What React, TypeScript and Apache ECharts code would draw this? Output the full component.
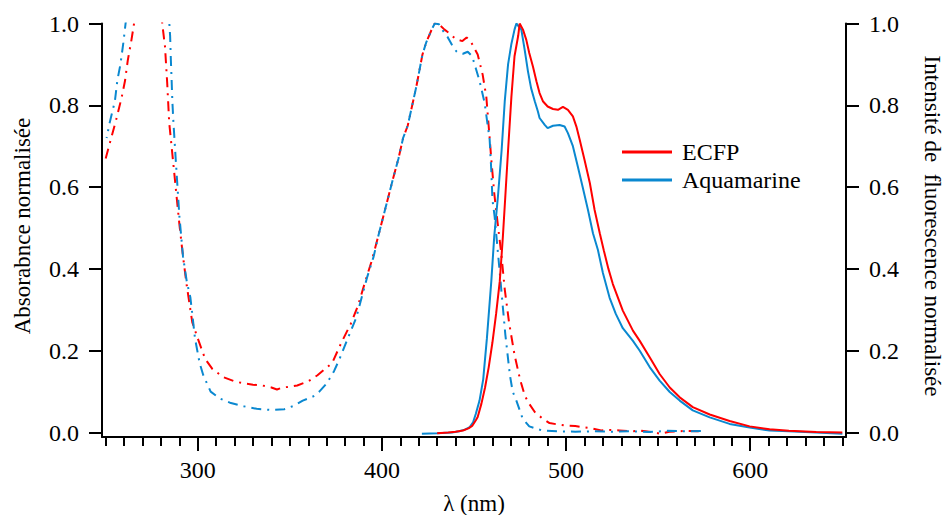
import React, { useEffect, useRef } from "react";
import * as echarts from "echarts";

// ---- Data ----
const ecfpAbsWl = [250, 253, 256, 258.7, 260.5, 262, 264, 265.4, 268, 272, 276, 279, 280.7, 282.2, 283.4, 284.5, 286, 288, 290, 292, 294, 297, 300, 304, 308, 314, 320, 325, 330, 335, 340, 343, 346, 350, 354, 360, 365, 369, 373, 378, 383, 387, 391, 394.5, 398, 402, 406, 409, 411.5, 414, 418.7, 422, 424, 427, 428.7, 431, 434, 437, 440, 443.7, 446, 448.6, 452, 454.7, 456.7, 458.5, 459.4, 461, 462, 464.8, 466.7, 469, 472, 475, 477.6, 480, 483, 487, 491, 495, 500, 505, 509, 514, 519, 524, 529, 535, 541, 547, 551, 556, 561, 566, 571, 575];
const ecfpAbsVal = [0.67, 0.72, 0.77, 0.82, 0.86, 0.91, 0.96, 1.0, 1.08, 1.18, 1.2, 1.1, 1.0, 0.944, 0.855, 0.757, 0.69, 0.6, 0.51, 0.43, 0.36, 0.27, 0.23, 0.18, 0.155, 0.135, 0.125, 0.12, 0.117, 0.115, 0.11, 0.105, 0.11, 0.112, 0.115, 0.125, 0.14, 0.155, 0.17, 0.22, 0.265, 0.31, 0.37, 0.42, 0.48, 0.55, 0.62, 0.67, 0.72, 0.75, 0.846, 0.924, 0.953, 0.985, 1.0, 0.998, 0.985, 0.975, 0.962, 0.957, 0.966, 0.953, 0.924, 0.875, 0.82, 0.72, 0.667, 0.585, 0.544, 0.438, 0.35, 0.27, 0.19, 0.13, 0.09, 0.07, 0.05, 0.035, 0.023, 0.02, 0.017, 0.016, 0.013, 0.01, 0.005, 0.006, 0.005, 0.003, 0.004, 0.001, -0.003, 0.002, 0.003, 0.004, 0.003, 0.004];

const aquaAbsWl = [250.5, 252.3, 255, 256.3, 258, 259.6, 260.8, 264, 270, 276, 281, 284, 285, 285.4, 285.8, 286.2, 286.7, 288, 290, 292, 294, 296, 298.5, 301, 303, 307, 312, 318, 325, 332, 340, 347, 352, 357, 362.6, 366, 370, 374, 377, 381, 386, 389, 392, 395.5, 398, 402, 406, 409, 411.5, 414, 418.7, 422, 424, 427, 428.7, 431, 433.5, 435.8, 438, 440.4, 442, 444, 446.6, 449, 451, 453, 455.8, 458.5, 459.4, 460, 461.2, 463.4, 465, 467, 469.5, 471, 473, 476.4, 480, 487, 495, 505, 515, 525, 535, 545, 555, 565, 575];
const aquaAbsVal = [0.72, 0.76, 0.81, 0.86, 0.9, 0.953, 1.0, 1.1, 1.2, 1.2, 1.12, 1.04, 0.969, 0.91, 0.863, 0.81, 0.765, 0.67, 0.53, 0.43, 0.37, 0.33, 0.23, 0.17, 0.14, 0.1, 0.083, 0.072, 0.064, 0.058, 0.055, 0.057, 0.065, 0.078, 0.088, 0.1, 0.12, 0.15, 0.18, 0.225, 0.28, 0.33, 0.38, 0.43, 0.48, 0.55, 0.62, 0.67, 0.72, 0.75, 0.846, 0.924, 0.953, 0.985, 1.0, 0.998, 0.98, 0.966, 0.948, 0.932, 0.927, 0.926, 0.931, 0.92, 0.89, 0.86, 0.805, 0.716, 0.64, 0.57, 0.528, 0.42, 0.34, 0.24, 0.14, 0.1, 0.078, 0.034, 0.015, 0.005, 0.003, 0.002, 0.003, 0.002, 0.003, 0.001, 0.004, 0.003, 0.004];

const ecfpEmWl = [430, 436, 440, 444, 447, 449, 451, 452, 454, 456, 458, 460, 462, 464, 465.7, 467, 468.5, 470.3, 472, 474, 474.8, 476.6, 478.4, 480, 482, 483.9, 485.6, 487.4, 490, 492.9, 495.6, 498.3, 501, 503.7, 505.6, 507.4, 510, 512.9, 515.5, 518.3, 520.5, 523, 525.4, 530.8, 536.3, 540, 545.4, 550.8, 556.3, 561.7, 568.8, 578, 588.8, 599.7, 610.5, 621, 635.8, 650];
const ecfpEmVal = [-0.002, 0, 0.002, 0.005, 0.01, 0.016, 0.03, 0.038, 0.07, 0.11, 0.16, 0.22, 0.29, 0.37, 0.48, 0.577, 0.69, 0.82, 0.92, 0.97, 1.0, 0.985, 0.96, 0.928, 0.895, 0.859, 0.83, 0.81, 0.797, 0.791, 0.789, 0.796, 0.789, 0.773, 0.748, 0.716, 0.667, 0.61, 0.544, 0.487, 0.445, 0.4, 0.363, 0.298, 0.249, 0.224, 0.184, 0.143, 0.11, 0.086, 0.062, 0.044, 0.028, 0.015, 0.008, 0.004, 0.001, 0];

const aquaEmWl = [421.7, 430, 438, 442, 445, 447.7, 449.5, 451, 453, 455, 457, 459.4, 461, 463, 465, 466.7, 468.5, 470.3, 472, 473, 475.7, 477.5, 479.3, 481, 483, 484.7, 485.6, 488.4, 490, 492.9, 496.5, 499.2, 501, 503.7, 506.4, 509, 511.9, 514.6, 517.3, 520, 523.6, 527, 530.8, 536.3, 540, 545.4, 550.8, 556.3, 561.7, 568.8, 578, 588.8, 599.7, 610.5, 621, 635.8, 650];
const aquaEmVal = [-0.003, -0.002, 0, 0.003, 0.007, 0.013, 0.025, 0.046, 0.078, 0.13, 0.23, 0.37, 0.48, 0.577, 0.69, 0.81, 0.9, 0.95, 0.985, 1.0, 0.985, 0.936, 0.883, 0.842, 0.81, 0.785, 0.769, 0.752, 0.744, 0.75, 0.752, 0.748, 0.732, 0.7, 0.65, 0.6, 0.544, 0.487, 0.446, 0.39, 0.33, 0.29, 0.255, 0.224, 0.2, 0.16, 0.127, 0.099, 0.078, 0.054, 0.037, 0.021, 0.012, 0.005, 0.003, 0, -0.003];

const xMajorTicks = [300, 400, 500, 600];
const xMinorTicks = [250, 260, 270, 280, 290, 300, 310, 320, 330, 340, 350, 360, 370, 380, 390, 400, 410, 420, 430, 440, 450, 460, 470, 480, 490, 500, 510, 520, 530, 540, 550, 560, 570, 580, 590, 600, 610, 620, 630, 640, 650];
const yTicks = [0, 0.2, 0.4, 0.6, 0.8, 1.0];

const RED = "#ff0000";
const BLUE = "#0a88d0";
const FONT = "Liberation Serif";
const DASH = [10, 6, 2, 6];

const pairs = (xs: number[], ys: number[]) => xs.map((x, i) => [x, ys[i]]);

export default function App() {
  const ref = useRef<HTMLDivElement>(null);

  useEffect(() => {
    const chart = echarts.init(ref.current!, null, { renderer: "svg" });
    const axisLineStyle = { color: "#000", width: 2 };
    const labelStyle = { fontFamily: FONT, fontSize: 24, color: "#000" };
    const titleStyle = (text: string) => ({
      text,
      fontFamily: FONT,
      fontSize: 23,
      fill: "#000",
      align: "center",
      verticalAlign: "middle",
    });
    const yAxisCommon = (pos: "left" | "right") => ({
      type: "value",
      position: pos,
      min: -0.011,
      max: 1.0,
      axisLine: { show: true, onZero: false, lineStyle: axisLineStyle },
      axisTick: { show: true, inside: false, length: 13, lineStyle: axisLineStyle, customValues: yTicks },
      axisLabel: { ...labelStyle, margin: 23, customValues: yTicks, formatter: (v: number) => v.toFixed(1) },
      splitLine: { show: false },
    });
    const option: any = {
      animation: false,
      backgroundColor: "#fff",
      textStyle: { fontFamily: FONT },
      grid: { left: 102, right: 98, top: 23.5, bottom: 78, containLabel: false, outerBoundsMode: "none" },
      xAxis: [
        {
          type: "value",
          position: "bottom",
          min: 248,
          max: 652,
          axisLine: { show: true, onZero: false, lineStyle: axisLineStyle },
          axisTick: { show: true, inside: false, length: 9, lineStyle: axisLineStyle, customValues: xMinorTicks },
          axisLabel: { show: false },
          splitLine: { show: false },
        },
        {
          type: "value",
          position: "bottom",
          min: 248,
          max: 652,
          axisLine: { show: false, onZero: false },
          axisTick: { show: true, inside: false, length: 14, lineStyle: axisLineStyle, customValues: xMajorTicks },
          axisLabel: { ...labelStyle, margin: 21, customValues: xMajorTicks, formatter: (v: number) => String(v) },
          splitLine: { show: false },
        },
      ],
      yAxis: [yAxisCommon("left"), yAxisCommon("right")],
      legend: {
        data: ["ECFP", "Aquamarine"],
        orient: "vertical",
        left: 622,
        top: 140,
        padding: 0,
        itemWidth: 50,
        itemHeight: 3,
        itemGap: 4,
        icon: "rect",
        textStyle: { ...labelStyle, padding: [0, 0, 0, 5] },
      },
      graphic: [
        {
          type: "text",
          x: 22,
          y: 226,
          rotation: Math.PI / 2,
          style: titleStyle("Absorabnce normalisée"),
        },
        {
          type: "text",
          x: 932,
          y: 226,
          rotation: -Math.PI / 2,
          style: titleStyle("Intensité de  fluorescence normalisée"),
        },
        {
          type: "text",
          x: 474,
          y: 503,
          style: titleStyle("λ (nm)"),
        },
      ],
      series: [
        {
          name: "ECFP absorbance",
          type: "line",
          xAxisIndex: 0,
          yAxisIndex: 0,
          data: pairs(ecfpAbsWl, ecfpAbsVal),
          showSymbol: false,
          symbol: "none",
          clip: true,
          color: RED,
          lineStyle: { color: RED, width: 2, type: DASH },
        },
        {
          name: "Aquamarine absorbance",
          type: "line",
          xAxisIndex: 0,
          yAxisIndex: 0,
          data: pairs(aquaAbsWl, aquaAbsVal),
          showSymbol: false,
          symbol: "none",
          clip: true,
          color: BLUE,
          lineStyle: { color: BLUE, width: 2, type: DASH, dashOffset: 9 },
        },
        {
          name: "Aquamarine",
          type: "line",
          xAxisIndex: 0,
          yAxisIndex: 1,
          data: pairs(aquaEmWl, aquaEmVal),
          showSymbol: false,
          symbol: "none",
          clip: true,
          color: BLUE,
          lineStyle: { color: BLUE, width: 2 },
        },
        {
          name: "ECFP",
          type: "line",
          xAxisIndex: 0,
          yAxisIndex: 1,
          data: pairs(ecfpEmWl, ecfpEmVal),
          showSymbol: false,
          symbol: "none",
          clip: true,
          color: RED,
          lineStyle: { color: RED, width: 2 },
        },
      ],
    };
    chart.setOption(option);
    return () => chart.dispose();
  }, []);

  return <div ref={ref} style={{ position: "absolute", left: 0, top: 0, width: 944, height: 515 }} />;
}
